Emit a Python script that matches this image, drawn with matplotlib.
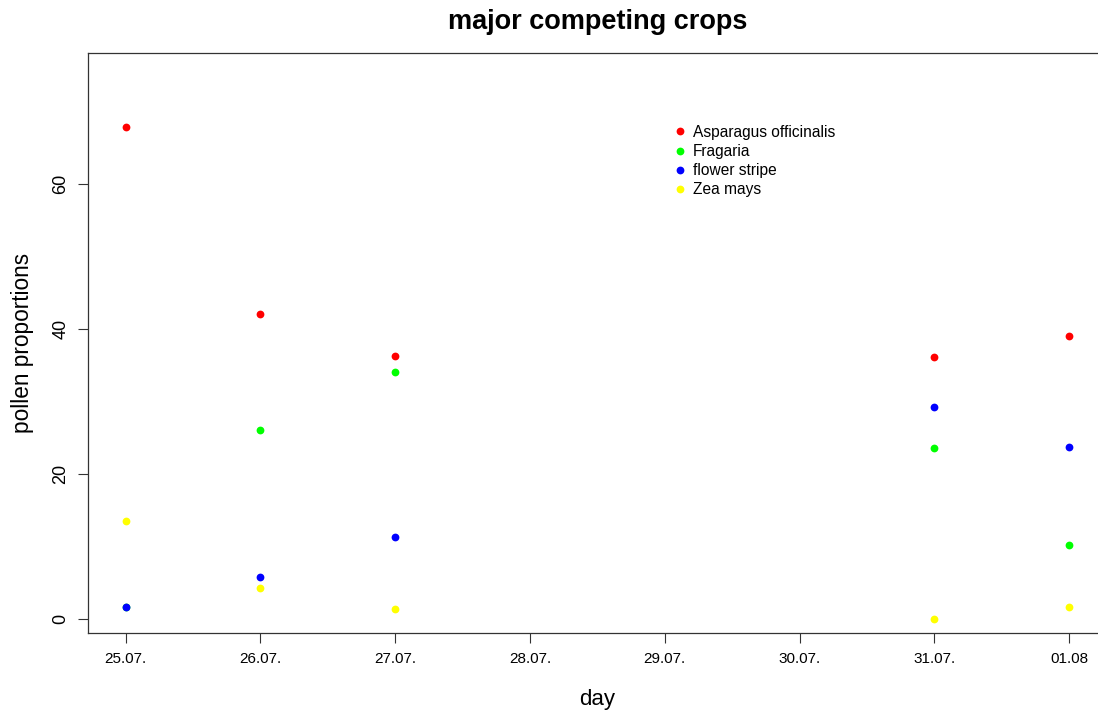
import matplotlib.pyplot as plt

plt.rcParams['font.family'] = ['Liberation Sans', 'DejaVu Sans']

# Axis days (tick labels) and the days that were sampled
days = ['25.07.', '26.07.', '27.07.', '28.07.', '29.07.', '30.07.', '31.07.', '01.08']
sampled = ['25.07.', '26.07.', '27.07.', '31.07.', '01.08']

# Pollen proportions (%) per crop on the sampled days
asparagus = [67.9, 42.1, 36.3, 36.1, 39.0]
fragaria = [1.7, 26.1, 34.1, 23.6, 10.2]
flower_stripe = [1.7, 5.8, 11.3, 29.2, 23.7]
zea_mays = [13.5, 4.3, 1.4, 0.0, 1.7]

series = [('Asparagus officinalis', asparagus, '#ff0000'),
          ('Fragaria', fragaria, '#00ff00'),
          ('flower stripe', flower_stripe, '#0000ff'),
          ('Zea mays', zea_mays, '#ffff00')]

xpos = [days.index(d) for d in sampled]

fig = plt.figure(figsize=(10.98, 7.11), dpi=100)
ax = fig.add_axes([0.0801, 0.1097, 0.928, 0.8158])

for name, vals, col in series:
    ax.plot(xpos, vals, 'o', color=col, ms=5.6, mew=0, label=name)

ax.set_xlim(-0.28, 7.28)
ax.set_ylim(-1.93, 78.07)
ax.set_xticks(range(len(days)))
ax.set_xticklabels(days, fontsize=11)
ax.set_yticks([0, 20, 40, 60])
ax.set_yticklabels(['0', '20', '40', '60'], fontsize=13, rotation=90, va='center')

ax.tick_params(axis='x', direction='out', length=7, width=0.8, color='#333333', pad=7)
ax.tick_params(axis='y', direction='out', length=7, width=0.8, color='#333333', pad=6.5)
for sp in ax.spines.values():
    sp.set_color('#333333')
    sp.set_linewidth(0.9)

ax.set_xlabel('day', fontsize=16)
ax.xaxis.set_label_coords(0.5, -0.096)
ax.set_ylabel('pollen proportions', fontsize=16.3)
ax.yaxis.set_label_coords(-0.053, 0.5)

ax.set_title('major competing crops', fontsize=19.5, fontweight='bold', pad=17)

ax.legend(loc='upper left', bbox_to_anchor=(0.577, 0.876), frameon=False,
          fontsize=11.2, handlelength=0.5, handletextpad=0.6, borderpad=0,
          borderaxespad=0, labelspacing=0.27)

fig.savefig('out.png', dpi=100)
